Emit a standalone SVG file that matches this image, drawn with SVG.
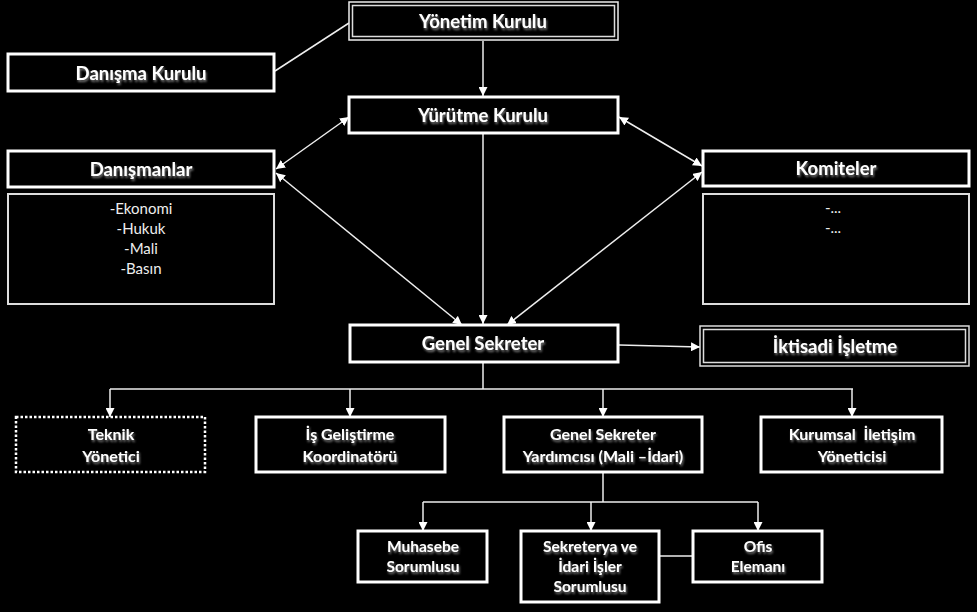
<svg xmlns="http://www.w3.org/2000/svg" width="977" height="612" viewBox="0 0 977 612">
<defs>
<marker id="ah" viewBox="0 0 10 10" refX="10" refY="5" markerWidth="9" markerHeight="9" markerUnits="userSpaceOnUse" orient="auto-start-reverse">
<path d="M0,0 L10,5 L0,10 z" fill="#ffffff"/>
</marker>
<filter id="ts" x="-10%" y="-30%" width="120%" height="160%">
<feGaussianBlur in="SourceAlpha" stdDeviation="1"/>
<feOffset dx="1" dy="1.5" result="b"/>
<feFlood flood-color="#777"/>
<feComposite in2="b" operator="in"/>
<feMerge><feMergeNode/><feMergeNode in="SourceGraphic"/></feMerge>
</filter>
</defs>
<style>
.box{fill:#000;stroke:#fff;stroke-width:3}
.thin{fill:#000;stroke:#ddd;stroke-width:2}
.dbl{fill:none;stroke:#ddd;stroke-width:1.5}
.dot{fill:#000;stroke:#fff;stroke-width:2.5;stroke-dasharray:2.5 2}
.t{font-family:Lato,"Liberation Sans",sans-serif;font-weight:bold;fill:#fff;text-anchor:middle;filter:url(#ts)}
.big{font-size:18.5px}
.mid{font-size:16px}
.sm{font-size:15.5px}
.lst{font-family:Lato,"Liberation Sans",sans-serif;font-size:15px;fill:#eee;text-anchor:middle}
.c{fill:none;stroke:#eee;stroke-width:1.5}
.ca{fill:none;stroke:#eee;stroke-width:1.5;marker-end:url(#ah)}
.cb{fill:none;stroke:#eee;stroke-width:1.5;marker-end:url(#ah);marker-start:url(#ah)}
</style>
<rect width="977" height="612" fill="#000"/>

<g id="connectors">
<line class="c" x1="275" y1="71" x2="349" y2="23"/>
<line class="ca" x1="483" y1="41" x2="483" y2="96"/>
<line class="cb" x1="349" y1="117" x2="276" y2="169"/>
<line class="cb" x1="619" y1="117" x2="702" y2="166"/>
<line class="cb" x1="276" y1="173" x2="462" y2="325"/>
<line class="cb" x1="702" y1="172" x2="507" y2="325"/>
<line class="ca" x1="483" y1="134" x2="483" y2="324"/>
<line class="ca" x1="619" y1="345" x2="700" y2="347"/>
<polyline class="c" points="483,362 483,389"/>
<line class="c" x1="110" y1="389" x2="853" y2="389"/>
<line class="ca" x1="110" y1="389" x2="110" y2="417"/>
<line class="ca" x1="350" y1="389" x2="350" y2="417"/>
<line class="ca" x1="603" y1="389" x2="603" y2="417"/>
<line class="ca" x1="852" y1="389" x2="852" y2="417"/>
<line class="c" x1="603" y1="473" x2="603" y2="502"/>
<line class="c" x1="423" y1="502" x2="758" y2="502"/>
<line class="ca" x1="423" y1="502" x2="423" y2="531"/>
<line class="ca" x1="591" y1="502" x2="591" y2="531"/>
<line class="ca" x1="758" y1="502" x2="758" y2="531"/>
<line class="c" x1="659" y1="556" x2="693" y2="556"/>
</g>

<g id="yonetim">
<rect x="349" y="2" width="269" height="38" fill="#000" stroke="#eee" stroke-width="1.5"/>
<rect x="352.5" y="5.5" width="262" height="31" class="dbl"/>
<text class="t big" x="483" y="28">Yönetim Kurulu</text>
</g>
<g id="danisma">
<rect class="box" x="8" y="54" width="266" height="37"/>
<text class="t big" x="141" y="80">Danışma Kurulu</text>
</g>
<g id="yurutme">
<rect class="box" x="349" y="97" width="269" height="36"/>
<text class="t big" x="483" y="122">Yürütme Kurulu</text>
</g>
<g id="danismanlar">
<rect class="box" x="8" y="151" width="266" height="36"/>
<text class="t big" x="141" y="176">Danışmanlar</text>
</g>
<g id="danismanlar-list">
<rect class="thin" x="8" y="194" width="266" height="110"/>
<text class="lst" x="141" y="214">-Ekonomi</text>
<text class="lst" x="141" y="234">-Hukuk</text>
<text class="lst" x="141" y="254">-Mali</text>
<text class="lst" x="141" y="274">-Basın</text>
</g>
<g id="komiteler">
<rect class="box" x="703" y="151" width="266" height="35"/>
<text class="t big" x="836" y="175">Komiteler</text>
</g>
<g id="komiteler-list">
<rect class="thin" x="703" y="194" width="266" height="110"/>
<text class="lst" x="833" y="213" font-size="11">-...</text>
<text class="lst" x="833" y="233" font-size="11">-...</text>
</g>
<g id="genel-sekreter">
<rect class="box" x="350" y="325" width="268" height="37"/>
<text class="t big" x="483" y="350">Genel Sekreter</text>
</g>
<g id="iktisadi">
<rect x="700" y="326" width="269" height="40" fill="#000" stroke="#ddd" stroke-width="1.5"/>
<rect x="703.5" y="329.5" width="262" height="33" class="dbl"/>
<text class="t big" x="835" y="353">İktisadi İşletme</text>
</g>
<g id="teknik">
<rect class="dot" x="16" y="417" width="189" height="55"/>
<text class="t mid" x="111" y="440">Teknik</text>
<text class="t mid" x="111" y="462">Yönetici</text>
</g>
<g id="is-gelistirme">
<rect class="box" x="256" y="417" width="189" height="55"/>
<text class="t mid" x="350" y="440">İş Geliştirme</text>
<text class="t mid" x="350" y="462">Koordinatörü</text>
</g>
<g id="gs-yardimcisi">
<rect class="box" x="504" y="417" width="198" height="55"/>
<text class="t mid" x="603" y="440">Genel Sekreter</text>
<text class="t mid" x="603" y="462">Yardımcısı (Mali –İdari)</text>
</g>
<g id="kurumsal">
<rect class="box" x="761" y="417" width="181" height="55"/>
<text class="t mid" x="852" y="440" xml:space="preserve">Kurumsal  İletişim</text>
<text class="t mid" x="852" y="462">Yöneticisi</text>
</g>
<g id="muhasebe">
<rect class="box" x="358" y="531" width="129" height="51"/>
<text class="t sm" x="423" y="552">Muhasebe</text>
<text class="t sm" x="423" y="572">Sorumlusu</text>
</g>
<g id="sekreterya">
<rect class="box" x="521" y="531" width="138" height="71"/>
<text class="t sm" x="590" y="552">Sekreterya ve</text>
<text class="t sm" x="590" y="572">İdari İşler</text>
<text class="t sm" x="590" y="592">Sorumlusu</text>
</g>
<g id="ofis">
<rect class="box" x="693" y="531" width="129" height="51"/>
<text class="t sm" x="758" y="552">Ofis</text>
<text class="t sm" x="758" y="572">Elemanı</text>
</g>
</svg>
